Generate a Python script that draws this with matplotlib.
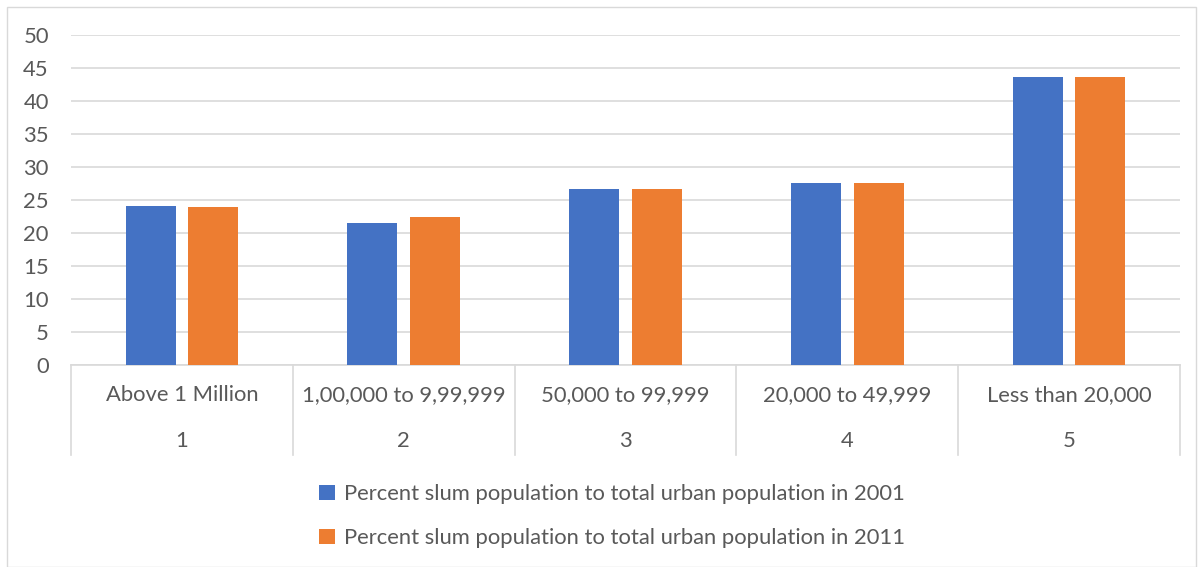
import matplotlib
matplotlib.use("Agg")
import matplotlib.pyplot as plt
import matplotlib.transforms as mtransforms
from matplotlib.lines import Line2D
from matplotlib.patches import Rectangle
import numpy as np

categories = ["Above 1 Million", "1,00,000 to 9,99,999", "50,000 to 99,999",
              "20,000 to 49,999", "Less than 20,000"]
ranks = ["1", "2", "3", "4", "5"]
series_names = ["Percent slum population to total urban population in 2001",
                "Percent slum population to total urban population in 2011"]
values_2001 = [24.1, 21.5, 26.7, 27.6, 43.6]
values_2011 = [24.0, 22.4, 26.7, 27.6, 43.6]
yticks = [0, 5, 10, 15, 20, 25, 30, 35, 40, 45, 50]

BLUE = "#4472C4"
ORANGE = "#ED7D31"
TEXT = "#595959"
GRID = "#D9D9D9"
FS = 15.8

plt.rcParams['font.family'] = ['Lato', 'DejaVu Sans']

W, H = 1203, 567
fig = plt.figure(figsize=(W / 100, H / 100), dpi=100)
ax = fig.add_axes([71 / W, 1 - 365 / H, (1180 - 71) / W, (365 - 35) / H])

x = np.arange(len(categories))
bw = 0.225
off = 0.141
ax.bar(x - off, values_2001, bw, color=BLUE, label=series_names[0], zorder=3)
ax.bar(x + off, values_2011, bw, color=ORANGE, label=series_names[1], zorder=3)

ax.set_xlim(-0.5, len(categories) - 0.5)
ax.set_ylim(0, 50)
ax.set_yticks(yticks)
ax.set_yticklabels([str(t) for t in yticks], color=TEXT, fontsize=FS)
ax.tick_params(axis='y', length=0, pad=16)
ax.set_xticks([])
ax.yaxis.grid(True, color=GRID, linewidth=1.2, zorder=0)
for s in ax.spines.values():
    s.set_visible(False)

trans = mtransforms.blended_transform_factory(ax.transData, ax.transAxes)
ax.add_line(Line2D([-0.5, len(categories) - 0.5], [0, 0], transform=trans,
                   color=GRID, linewidth=1.2, clip_on=False, zorder=2))
depth = 90 / 330
for b in np.arange(len(categories) + 1) - 0.5:
    ax.add_line(Line2D([b, b], [0, -depth], transform=trans, color=GRID,
                       linewidth=1.2, clip_on=False))
for i, (c, r) in enumerate(zip(categories, ranks)):
    ax.text(i, -30 / 330, c, transform=trans, ha='center', va='center',
            color=TEXT, fontsize=FS)
    ax.text(i, -76 / 330, r, transform=trans, ha='center', va='center',
            color=TEXT, fontsize=FS)

leg = fig.legend(loc='center', bbox_to_anchor=(612 / W, 1 - 516 / H), ncol=1,
                 frameon=False, fontsize=FS, labelcolor=TEXT,
                 handlelength=0.7, handleheight=0.7, handletextpad=0.4,
                 labelspacing=1.1)

fig.add_artist(Rectangle((7 / W, 0.5 / H), (1196 - 7) / W, (H - 7 - 0.5) / H,
                         transform=fig.transFigure, fill=False,
                         edgecolor=GRID, linewidth=1.0))

fig.savefig("out.png", dpi=100)
